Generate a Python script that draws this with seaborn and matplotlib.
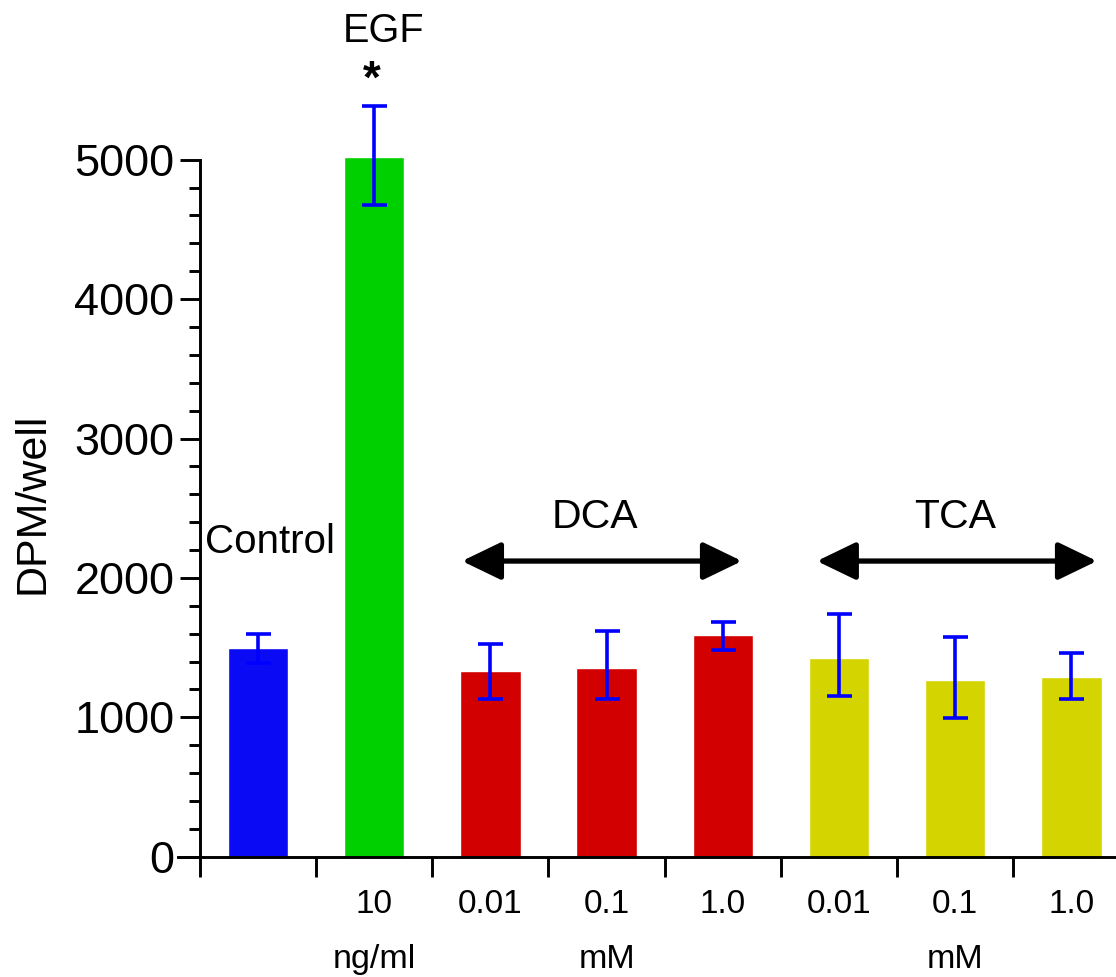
import numpy as np
import pandas as pd
import matplotlib.pyplot as plt
import seaborn as sns

# values
groups = ['Control', 'EGF 10', 'DCA 0.01', 'DCA 0.1', 'DCA 1.0', 'TCA 0.01', 'TCA 0.1', 'TCA 1.0']
dose_labels = ['', '10', '0.01', '0.1', '1.0', '0.01', '0.1', '1.0']
unit_labels = ['', 'ng/ml', '', 'mM', '', '', 'mM', '']
dpm = [1495, 5017, 1334, 1356, 1590, 1428, 1265, 1289]
err_low = [1393, 4673, 1133, 1133, 1481, 1155, 995, 1133]
err_high = [1597, 5387, 1528, 1619, 1686, 1739, 1574, 1459]
bar_colors = ['#0a0af5', '#00d000', '#d20000', '#d20000', '#d20000',
              '#d4d400', '#d4d400', '#d4d400']

df = pd.DataFrame({'group': groups, 'dpm': dpm})

sns.set_style('ticks')
plt.rcParams['font.family'] = ['Liberation Sans', 'DejaVu Sans']
for key in ['text.color', 'axes.labelcolor', 'xtick.color', 'ytick.color', 'axes.edgecolor']:
    plt.rcParams[key] = 'black'

fig = plt.figure(figsize=(11.16, 9.77), dpi=100)
ax = fig.add_axes([178 / 1116, 1 - 856.7 / 977, 1 - 178 / 1116, 856.7 / 977])

sns.barplot(data=df, x='group', y='dpm', hue='group', palette=bar_colors,
            saturation=1, width=0.52, errorbar=None, legend=False, ax=ax)

lo = np.array(dpm) - np.array(err_low)
hi = np.array(err_high) - np.array(dpm)
ax.errorbar(np.arange(len(groups)), dpm, yerr=[lo, hi], fmt='none',
            ecolor='#0000ff', elinewidth=2.6, capsize=9, capthick=2.6, zorder=5)

# axes styling
ax.set_xlim(-0.688, 7.384)
ax.set_ylim(0, 6146)
for s in ['top', 'right']:
    ax.spines[s].set_visible(False)
ax.spines['left'].set_position(('data', -0.5))
ax.spines['left'].set_bounds(0, 5000)
ax.spines['left'].set_linewidth(2.1)
ax.spines['bottom'].set_linewidth(2.1)

ax.set_yticks([0, 1000, 2000, 3000, 4000, 5000])
ax.set_yticks([v for v in range(200, 5000, 200) if v % 1000], minor=True)
ax.tick_params(axis='y', which='major', length=14.4, width=2.1, labelsize=32.5, pad=4)
ax.tick_params(axis='y', which='minor', length=7.8, width=2.1)

ax.set_xticks(np.arange(-0.5, 7, 1), [''] * 8)
ax.set_xticks(np.arange(len(groups)), dose_labels, minor=True)
ax.tick_params(axis='x', which='major', length=14.4, width=2.1)
ax.tick_params(axis='x', which='minor', length=0, labelsize=24, pad=23)
ax.set_xlabel('')

for i, u in enumerate(unit_labels):
    if u:
        ax.text(i, -798, u, ha='center', va='baseline', fontsize=24.5, clip_on=False)

ax.set_ylabel('DPM/well', fontsize=31, va='center')
ax.yaxis.set_label_coords(-0.155, 0.413)

# annotations
ax.text(0.1, 2176, 'Control', ha='center', va='baseline', fontsize=29)
ax.text(1.08, 5846, 'EGF', ha='center', va='baseline', fontsize=28.5)
ax.text(0.98, 5480, '*', ha='center', va='baseline', fontsize=33, fontweight='bold')
ax.text(2.90, 2356, 'DCA', ha='center', va='baseline', fontsize=29.5)
ax.text(6.0, 2356, 'TCA', ha='center', va='baseline', fontsize=29.5)

arrow = dict(arrowstyle='<|-|>,head_length=1.2,head_width=0.58', color='black',
             lw=3.8, shrinkA=0, shrinkB=0, mutation_scale=20)
ax.annotate('', xy=(1.756, 2121), xytext=(4.165, 2121), arrowprops=arrow)
ax.annotate('', xy=(4.81, 2121), xytext=(7.22, 2121), arrowprops=arrow)

plt.savefig('out.png', dpi=100)
plt.close()
